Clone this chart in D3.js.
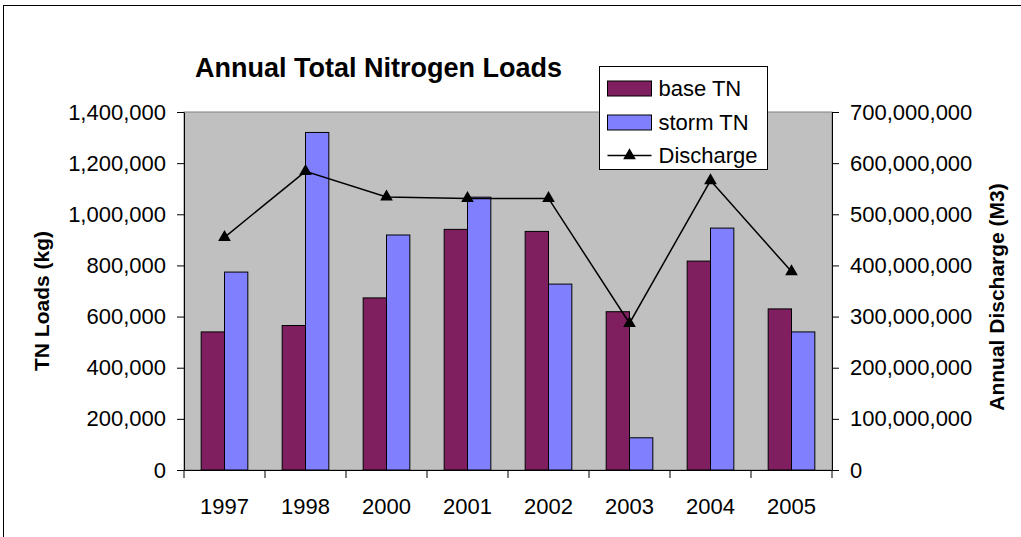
<!DOCTYPE html>
<html>
<head>
<meta charset="utf-8">
<script src="https://cdn.jsdelivr.net/npm/d3@7"></script>
<style>
  body { margin: 0; background: #fff; }
  text { font-family: Arial, "Liberation Sans", sans-serif; fill: #000; }
</style>
</head>
<body>
<svg class="chart"></svg>
<script>
// chart values
var years = ['1997', '1998', '2000', '2001', '2002', '2003', '2004', '2005'];
var baseTN = [540000, 565000, 673000, 941000, 933000, 619000, 817000, 630000];
var stormTN = [774000, 1320000, 919000, 1067000, 727000, 126000, 946000, 540000];
var discharge = [455000000, 584000000, 534000000, 531000000, 531000000, 287000000, 566000000, 388000000];
var leftTicks = [0, 200000, 400000, 600000, 800000, 1000000, 1200000, 1400000];
var rightTicks = [0, 100000000, 200000000, 300000000, 400000000, 500000000, 600000000, 700000000];
var seriesNames = ['base TN', 'storm TN', 'Discharge'];
var seriesColors = ['#7f1f5f', '#8080ff'];

var W = 1021, H = 537;
var margin = {top: 112, right: 189, bottom: 67, left: 184},
	width = W - margin.left - margin.right,
	height = H - margin.top - margin.bottom;

var svg = d3.select('.chart')
	.attr('width', W)
	.attr('height', H);

// outer chart frame
svg.append('rect')
	.attr('x', 3.5).attr('y', 5.5)
	.attr('width', W + 10).attr('height', H + 10)
	.attr('fill', 'none').attr('stroke', '#000').attr('stroke-width', 1);

var g = svg.append('g')
	.attr('transform', 'translate(' + margin.left + ',' + margin.top + ')');

var x = d3.scaleBand().domain(years).range([0, width]),
	x1 = d3.scaleBand().domain(['base', 'storm'])
		.range([x.bandwidth() * 0.212, x.bandwidth() * 0.788]),
	y = d3.scaleLinear().domain([0, 1400000]).range([height, 0]),
	y2 = d3.scaleLinear().domain([0, 700000000]).range([height, 0]);

// plot area
g.append('rect')
	.attr('width', width).attr('height', height)
	.attr('fill', '#c0c0c0').attr('stroke', '#808080');

// bars
var rows = years.map(function(d, i) { return {year: d, base: baseTN[i], storm: stormTN[i]}; });
['base', 'storm'].forEach(function(key, k) {
	g.selectAll('.bar-' + key)
		.data(rows)
	  .enter().append('rect')
		.attr('class', 'bar-' + key)
		.attr('x', function(d) { return x(d.year) + x1(key); })
		.attr('y', function(d) { return y(d[key]); })
		.attr('width', x1.bandwidth())
		.attr('height', function(d) { return height - y(d[key]); })
		.attr('fill', seriesColors[k])
		.attr('stroke', '#000').attr('stroke-width', 1);
});

// discharge line
var pts = years.map(function(d, i) { return [x(d) + x.bandwidth() / 2, y2(discharge[i])]; });
g.append('path')
	.attr('d', d3.line()(pts))
	.attr('fill', 'none').attr('stroke', '#000').attr('stroke-width', 1.5);
var tri = d3.symbol().type(d3.symbolTriangle).size(70);
g.selectAll('.marker')
	.data(pts)
  .enter().append('path')
	.attr('class', 'marker')
	.attr('transform', function(d) { return 'translate(' + d[0] + ',' + d[1] + ')'; })
	.attr('d', tri).attr('fill', '#000');

var fmt = d3.format(',');

// axes
function styleAxis(a) {
	a.selectAll('.domain').attr('stroke', '#000');
	a.selectAll('.tick line').attr('stroke', '#000');
	a.selectAll('.tick text').style('font-size', '22px').attr('fill', '#000');
}
g.append('g')
	.call(d3.axisLeft(y).tickValues(leftTicks).tickFormat(fmt).tickSize(7).tickSizeOuter(0).tickPadding(11))
	.call(styleAxis);
g.append('g')
	.attr('transform', 'translate(' + width + ',0)')
	.call(d3.axisRight(y2).tickValues(rightTicks).tickFormat(fmt).tickSize(7).tickSizeOuter(0).tickPadding(11))
	.call(styleAxis);

var xAxis = g.append('g')
	.attr('transform', 'translate(0,' + height + ')')
	.call(d3.axisBottom(x).tickSize(0).tickPadding(28))
	.call(styleAxis);
// category divider ticks
xAxis.selectAll('.divider')
	.data(years.concat(['end']))
  .enter().append('line')
	.attr('x1', function(d, i) { return i * x.bandwidth(); })
	.attr('x2', function(d, i) { return i * x.bandwidth(); })
	.attr('y1', 0).attr('y2', 8)
	.attr('stroke', '#000');

// titles
svg.append('text')
	.attr('x', 195).attr('y', 77)
	.style('font-size', '27px').style('font-weight', 'bold')
	.text('Annual Total Nitrogen Loads');
svg.append('text')
	.attr('transform', 'translate(49,' + (margin.top + height / 2 + 10) + ') rotate(-90)')
	.attr('text-anchor', 'middle')
	.style('font-size', '21px').style('font-weight', 'bold')
	.text('TN Loads (kg)');
svg.append('text')
	.attr('transform', 'translate(1004,' + (margin.top + height / 2 + 6) + ') rotate(-90)')
	.attr('text-anchor', 'middle')
	.style('font-size', '21px').style('font-weight', 'bold')
	.text('Annual Discharge (M3)');

// legend
var lg = svg.append('g').attr('transform', 'translate(599.5,66.5)');
lg.append('rect')
	.attr('width', 168).attr('height', 103)
	.attr('fill', '#fff').attr('stroke', '#000');
var rowY = [22, 56, 89];
seriesNames.forEach(function(name, i) {
	if (i < 2) {
		lg.append('rect')
			.attr('x', 8).attr('y', rowY[i] - 7.5)
			.attr('width', 44).attr('height', 15)
			.attr('fill', seriesColors[i]).attr('stroke', '#000');
	} else {
		lg.append('line')
			.attr('x1', 8).attr('x2', 52).attr('y1', rowY[i]).attr('y2', rowY[i])
			.attr('stroke', '#000').attr('stroke-width', 1.5);
		lg.append('path')
			.attr('transform', 'translate(30,' + rowY[i] + ')')
			.attr('d', tri).attr('fill', '#000');
	}
	lg.append('text')
		.attr('x', 59).attr('y', rowY[i]).attr('dy', '0.36em')
		.style('font-size', '22px')
		.text(name);
});
</script>
</body>
</html>
